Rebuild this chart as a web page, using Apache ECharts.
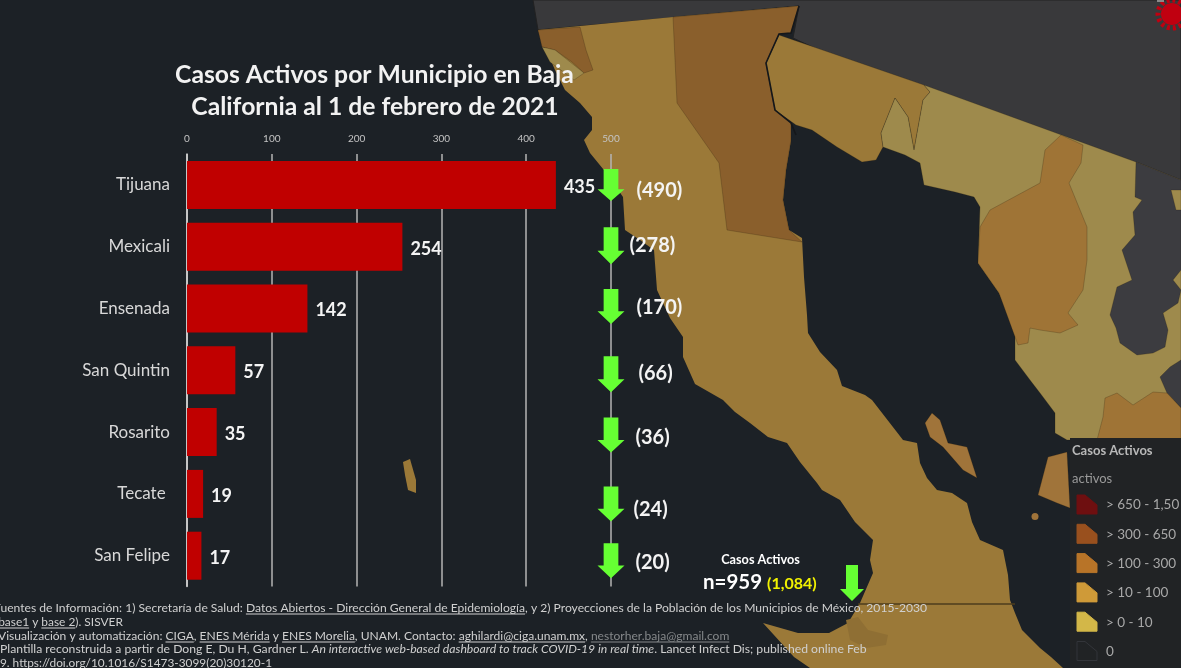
<!DOCTYPE html>
<html><head><meta charset="utf-8">
<style>html,body{margin:0;padding:0;background:#1c2126;overflow:hidden}#c{width:1181px;height:668px}</style>
<script src="https://cdn.jsdelivr.net/npm/echarts@6/dist/echarts.min.js"></script>
</head><body><div id="c"></div>
<script>
const categories = ['Tijuana','Mexicali','Ensenada','San Quintin','Rosarito','Tecate ','San Felipe'];
const activos = [435,254,142,57,35,19,17];
const previos = [490,278,170,66,36,24,20];
const axisTicks = [0,100,200,300,400,500];
const total = 'n=959', totalPrevio = '(1,084)';
// pixel nudges of the hand-placed arrows and brackets
const arrowDy = [0,-1,-2,4,3,10,5];
const arrowH  = [32,37,35,36,35,35,35];
const prevDx  = [4,-3,4,6,3,1,3];
const prevDy  = [6,0,1,-1,2,6,2];

const FONT = 'Lato, sans-serif';
const C = {sea:'#1c2126',gray:'#39393b',gray2:'#3c3c40',main:'#9b7938',brown:'#8a5f2c',tan:'#9e8a4c',mid:'#9f7436',isl:'#a0743a',panel:'#212325'};

const land = {
 gray:[[533,0],[1181,0],[1181,219],[1136,198],[793,38],[799,6],[538,30]],
 baja:[[538,30],[580,26],[673,17],[799,6],[791,33],[779,34],[766,63],[775,110],[791,123],[791,140],[786,170],[783,200],[789,230],[802,238],[804,277],[807,315],[808,333],[820,352],[837,370],[842,386],[865,395],[872,400],[903,440],[917,443],[920,463],[927,478],[937,490],[952,493],[967,503],[972,522],[980,540],[1003,550],[1008,575],[1010,600],[1015,613],[1022,630],[1040,648],[1051,657],[1063,668],[810,668],[794,657],[763,623],[798,633],[829,633],[848,623],[860,603],[873,573],[870,560],[873,540],[855,522],[840,500],[822,490],[817,483],[800,462],[787,443],[768,437],[750,423],[735,412],[723,400],[695,384],[683,357],[683,337],[670,318],[657,290],[654,250],[640,240],[625,230],[623,197],[608,175],[590,153],[584,140],[592,130],[592,117],[580,103],[565,90],[555,70],[545,47]],
 brownN:[[673,17],[799,6],[791,33],[779,34],[766,63],[775,110],[791,123],[791,140],[786,170],[783,200],[789,230],[802,242],[727,230],[719,163],[677,103]],
 brownNW:[[538,30],[580,27],[586,50],[593,70],[584,73],[572,62],[555,50],[542,47]],
 tanNW:[[542,47],[555,50],[584,73],[574,80],[565,73],[550,62]],
 son:[[779,35],[924,85],[930,92],[923,100],[914,150],[908,117],[895,98],[881,133],[883,147],[876,160],[862,162],[837,147],[812,130],[796,125],[775,110],[766,63]],
 tanE:[[924,85],[1136,162],[1181,180],[1181,440],[1067,440],[1055,433],[1055,413],[1040,393],[1030,380],[1015,360],[1015,327],[999,293],[978,263],[980,207],[974,197],[955,192],[924,185],[920,163],[905,155],[883,147],[881,133],[895,98],[908,117],[914,150],[923,100],[930,92]],
 midE:[[980,227],[990,210],[1040,183],[1045,150],[1061,135],[1083,145],[1081,163],[1069,183],[1087,227],[1087,260],[1083,290],[1068,313],[1078,325],[1060,333],[1040,330],[1030,328],[1028,343],[1018,345],[999,293],[978,263]],
 grayE:[[1136,162],[1181,180],[1181,190],[1171,190],[1176,210],[1181,210],[1181,270],[1173,280],[1181,290],[1178,303],[1163,313],[1168,330],[1165,347],[1153,353],[1137,355],[1120,343],[1116,328],[1110,315],[1117,287],[1132,280],[1122,250],[1135,235],[1133,212],[1142,200],[1135,197]],
 gray3:[[1170,367],[1181,360],[1181,408],[1167,393],[1160,377]],
 brownSE:[[1097,440],[1103,417],[1105,398],[1117,393],[1133,405],[1153,392],[1167,393],[1181,408],[1181,440]],
 darkS:[[846,620],[858,617],[868,630],[888,635],[886,645],[866,648],[850,640]],
 islaG:[[403,462],[410,459],[416,480],[416,493],[408,490],[405,475]],
 isla1:[[925,423],[932,413],[940,420],[948,443],[967,447],[977,478],[963,470],[943,447],[930,437]],
 isla2:[[1038,495],[1048,457],[1067,452],[1070,508],[1057,503]]
};
const coastLine=[[799,6],[791,33],[779,34],[766,63],[775,110],[791,123],[796,135]];
const legendRows=[['> 650 - 1,50','#6e0f10'],['> 300 - 650','#99501e'],['> 100 - 300','#b87428'],['> 10 - 100','#cf9a38'],['> 0 - 10','#d3b748'],['0','none']];

const footer=[
 {y:608,x:-6,w:933,segs:[['Fuentes de Información: 1) Secretaría de Salud: '],['Datos Abiertos - Dirección General de Epidemiología',1],[', y 2) Proyecciones de la Población de los Municipios de México, 2015-2030']]},
 {y:622,x:-5,w:128,segs:[['(base1',1],[' y '],['base 2',1],['). SISVER']]},
 {y:636,x:-2,w:732,segs:[['Visualización y automatización: '],['CIGA',1],[', '],['ENES Mérida',1],[' y '],['ENES Morelia',1],[', UNAM. Contacto: '],['aghilardi@ciga.unam.mx',1],[', '],['nestorher.baja@gmail.com',1,'#85888a']]},
 {y:649,x:0,w:867,segs:[['Plantilla reconstruida a partir de Dong E, Du H, Gardner L. '],['An interactive web-based dashboard to track COVID-19 in real time',0,null,1],['. Lancet Infect Dis; published online Feb']]},
 {y:663,x:-7,w:279,segs:[['19. '],['https://doi.org/10.1016/S1473-3099(20)30120-1',1]]}
];

const poly=(pts,fill,z,stroke,lw)=>({type:'polygon',silent:true,z:z||-10,shape:{points:pts},style:{fill,stroke:stroke||'rgba(30,25,10,.28)',lineWidth:lw===undefined?0.8:lw}});
const txt=(x,y,t,o)=>({type:'text',silent:true,z:50,x,y,style:Object.assign({text:t,fill:'#fff',font:'13px '+FONT,textVerticalAlign:'middle',textBaseline:'middle'},o||{})});

const g=[];
g.push(poly(land.gray,C.gray,-12,'#222',1));
g.push(poly(land.baja,C.main,-11,C.main,0));
g.push(poly(land.darkS,'#8f6f34',-10,'#8f6f34',0));
g.push(poly(land.brownN,C.brown));g.push(poly(land.brownNW,C.brown));g.push(poly(land.tanNW,C.tan));
g.push(poly(land.son,C.main));g.push(poly(land.tanE,C.tan));g.push(poly(land.midE,C.mid));
g.push(poly(land.grayE,C.gray2));g.push(poly(land.gray3,C.gray2));g.push(poly(land.brownSE,C.mid));
g.push(poly(land.islaG,C.main,-9,C.main,0));g.push(poly(land.isla1,C.isl));g.push(poly(land.isla2,C.isl));
g.push({type:'circle',silent:true,z:-9,shape:{cx:1035,cy:516.5,r:3.5},style:{fill:C.isl}});
g.push({type:'polyline',silent:true,z:-8,shape:{points:coastLine},style:{stroke:'#15171a',lineWidth:1.6,fill:'none'}});
g.push({type:'line',silent:true,z:-8,shape:{x1:858,y1:604,x2:1015,y2:604},style:{stroke:'#4c3c1c',lineWidth:1.5}});
// virus in the corner
g.push({type:'circle',silent:true,z:-8,shape:{cx:1172,cy:14,r:14},style:{fill:'none',stroke:'#c00010',lineWidth:5,lineDash:[3,3]}});
g.push({type:'circle',silent:true,z:-8,shape:{cx:1172,cy:14,r:11},style:{fill:'#c00010'}});
g.push({type:'rect',silent:true,z:-8,shape:{x:1157,y:0,width:7,height:2},style:{fill:'#8a8a8a'}});
// legend panel
g.push({type:'rect',silent:true,z:-7,shape:{x:1070,y:438,width:111,height:230},style:{fill:C.panel}});
g.push(txt(1072,451,'Casos Activos',{fill:'#b8b8b8',font:'bold 13px '+FONT}));
g.push(txt(1072,479,'activos',{fill:'#9a9a9a',font:'13px '+FONT}));
legendRows.forEach((r,i)=>{
 const y=505+i*29.3;
 g.push({type:'polygon',silent:true,z:-6,shape:{points:[[1077,y-10],[1085,y-10],[1097,y],[1097,y+9],[1077,y+9]]},style:{fill:r[1]==='none'?'transparent':r[1],stroke:r[1]==='none'?'#33353a':r[1],lineWidth:1}});
 g.push(txt(1106,y,r[0],{fill:'#a8a8a8',font:'13.5px '+FONT}));
});
// title
g.push(txt(374.5,75,'Casos Activos por Municipio en Baja',{font:'bold 24.7px '+FONT,textAlign:'center',fill:'#f2f2f2'}));
g.push(txt(375,107,'California al 1 de febrero de 2021',{font:'bold 24.7px '+FONT,textAlign:'center',fill:'#f2f2f2'}));
// total
g.push(txt(760.5,560,'Casos Activos',{font:'bold 12.7px '+FONT,textAlign:'center'}));
g.push(txt(703,582,total,{font:'bold 20.5px '+FONT}));
g.push(txt(767,584,totalPrevio,{font:'bold 16px '+FONT,fill:'#f2f200'}));
g.push({type:'polygon',silent:true,z:40,shape:{points:[[846,565],[858,565],[858,589],[864,589],[852,601],[840,589],[846,589]]},style:{fill:'#66ff33'}});
// footer, measured so that underlines sit under their words
const mc=document.createElement('canvas').getContext('2d');
footer.forEach(l=>{
 const fnt=(s,it)=>(it?'italic ':'')+s+'px '+FONT;
 const width=s=>l.segs.reduce((a,sg)=>{mc.font=fnt(s,sg[3]);return a+mc.measureText(sg[0]).width},0);
 const size=Math.round(12*l.w/width(12)*100)/100;
 let x=l.x;
 l.segs.forEach(sg=>{
  mc.font=fnt(size,sg[3]);const w=mc.measureText(sg[0]).width;const col=sg[2]||'#d0d0d0';
  g.push(txt(x,l.y,sg[0],{font:fnt(size,sg[3]),fill:col}));
  if(sg[1])g.push({type:'line',silent:true,z:50,shape:{x1:x,y1:l.y+6,x2:x+w,y2:l.y+6},style:{stroke:col,lineWidth:1}});
  x+=w;
 });
});

const arrow='path://M5,0H17V23H22L11,36L0,23H5Z';
const chart=echarts.init(document.getElementById('c'),null,{renderer:'canvas'});
chart.setOption({
 animation:false,backgroundColor:C.sea,
 grid:{left:187,top:154,width:424,height:432.6},
 xAxis:{type:'value',position:'top',min:0,max:500,interval:100,
  axisLine:{show:false},axisTick:{show:false},
  axisLabel:{color:'#c4c4c4',fontSize:10,margin:10,fontFamily:FONT,formatter:v=>axisTicks.includes(v)?String(v):''},
  splitLine:{show:true,lineStyle:{color:'#b4b4b4',width:1.5}}},
 yAxis:{type:'category',inverse:true,data:categories,
  axisLine:{show:true,lineStyle:{color:'#d8d8d8',width:1.5}},axisTick:{show:false},
  axisLabel:{color:'#d8d8d8',fontSize:17,margin:17,fontFamily:FONT,padding:[2,0,0,0]}},
 graphic:{elements:g},
 series:[
  {type:'bar',data:activos,barWidth:48,itemStyle:{color:'#c00000'},z:3,
   label:{show:true,position:'right',distance:8,color:'#f4f4f4',fontSize:18,fontWeight:'bold',fontFamily:FONT,offset:[0,2]}},
  {type:'scatter',z:5,
   data:previos.map((p,i)=>({value:[500,i],prev:p,symbolSize:[27,arrowH[i]],symbolOffset:[0,arrowDy[i]],
     label:{offset:[prevDx[i],prevDy[i]]}})),
   symbol:arrow,itemStyle:{color:'#66ff33',opacity:1},
   label:{show:true,position:'right',distance:8,color:'#f4f4f4',fontSize:20,fontWeight:'bold',fontFamily:FONT,
     formatter:o=>'('+o.data.prev+')'}}
 ]
});
</script></body></html>
